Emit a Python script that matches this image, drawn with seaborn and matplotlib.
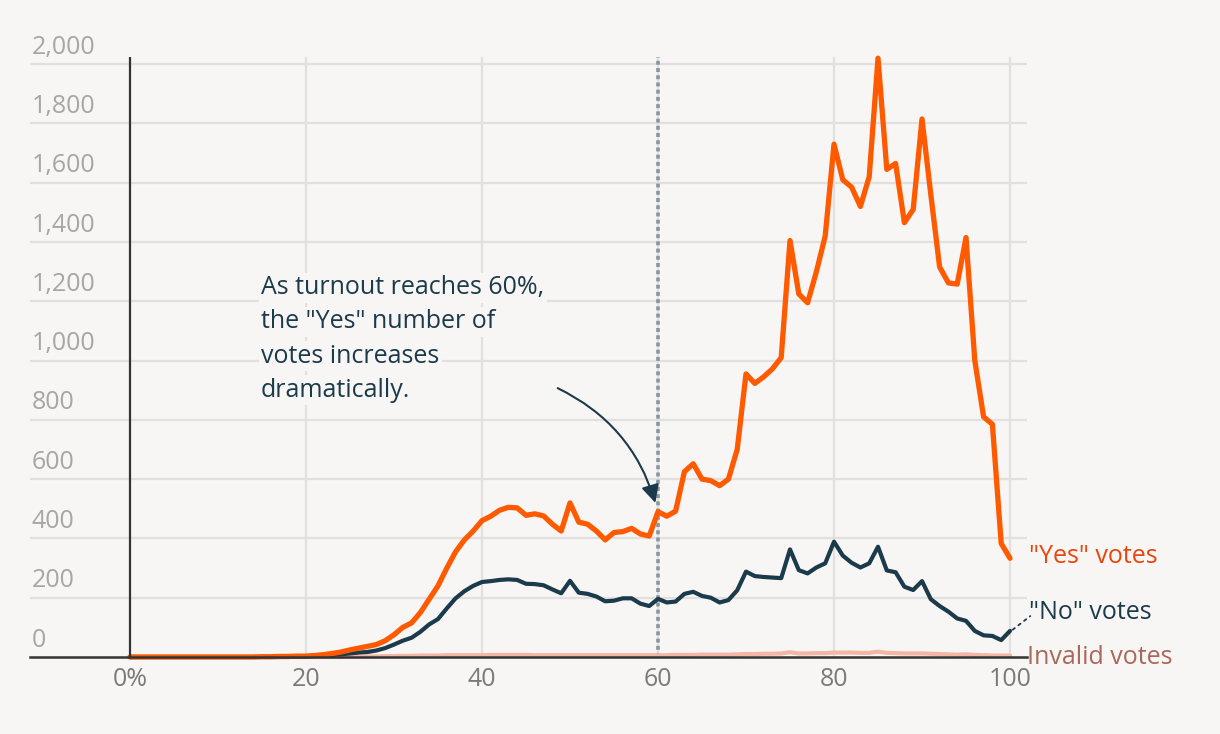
import numpy as np
import pandas as pd
import matplotlib
matplotlib.use("Agg")
import matplotlib.pyplot as plt
import seaborn as sns

# Turnout (%) on the x axis, number of polling stations on the y axis
turnout = list(range(0, 101))

yes_votes = [0] * 15 + [
    1, 1, 2, 2, 3, 3, 5, 8, 12, 17,             # 15-24
    24, 30, 36, 42, 55, 75, 100, 115, 150, 195,  # 25-34
    240, 300, 355, 395, 425, 460, 475, 495, 505, 503,  # 35-44
    478, 483, 476, 448, 425, 520, 455, 448, 425, 395,  # 45-54
    420, 423, 434, 415, 408, 490, 475, 492, 625, 652,  # 55-64
    600, 595, 578, 600, 700, 955, 923, 945, 972, 1010,  # 65-74
    1405, 1225, 1195, 1300, 1420, 1730, 1610, 1585, 1520, 1620,  # 75-84
    2020, 1645, 1665, 1465, 1510, 1815, 1560, 1316, 1262, 1258,  # 85-94
    1415, 1000, 810, 785, 383, 333,             # 95-100
]

no_votes = [0] * 19 + [
    2, 3, 4, 5, 7, 9,                           # 19-24
    12, 15, 17, 22, 30, 42, 55, 65, 85, 110,    # 25-34
    128, 164, 198, 222, 240, 253, 256, 260, 262, 260,  # 35-44
    247, 246, 242, 228, 215, 257, 217, 213, 204, 188,  # 45-54
    190, 198, 198, 180, 172, 196, 184, 187, 213, 220,  # 55-64
    206, 200, 184, 192, 225, 288, 273, 270, 268, 266,  # 65-74
    363, 293, 282, 302, 316, 389, 342, 318, 302, 316,  # 75-84
    372, 292, 286, 237, 226, 256, 195, 172, 153, 130,  # 85-94
    122, 88, 73, 71, 57, 88,                    # 95-100
]

invalid_votes = [0] * 25 + [
    1, 1, 2, 2, 3,                              # 25-29
    3, 4, 4, 5, 5, 5, 6, 6, 6, 6,               # 30-39
    6, 7, 7, 7, 7, 7, 6, 6, 6, 6,               # 40-49
    6, 6, 6, 6, 6, 6, 6, 6, 6, 6,               # 50-59
    6, 6, 7, 7, 7, 8, 8, 8, 8, 9,               # 60-69
    10, 10, 11, 11, 12, 16, 12, 12, 13, 13,     # 70-79
    15, 15, 15, 14, 14, 18, 14, 13, 12, 12,     # 80-89
    12, 11, 10, 9, 8, 9, 7, 6, 5, 5,            # 90-99
    5,                                          # 100
]

series_names = ['"Yes" votes', '"No" votes', 'Invalid votes']
y_ticks = list(range(0, 2001, 200))
x_ticks = [0, 20, 40, 60, 80, 100]
x_tick_labels = ["0%", "20", "40", "60", "80", "100"]

BG = "#f7f6f4"
GRID = "#e2e0de"
ORANGE = "#ff5a00"
NAVY = "#1b3a4b"
PINK = "#f6b6a6"

df = pd.DataFrame({
    "turnout": turnout * 3,
    "stations": yes_votes + no_votes + invalid_votes,
    "series": [series_names[0]] * 101 + [series_names[1]] * 101 + [series_names[2]] * 101,
})

sns.set_theme(style="white")
plt.rcParams["font.family"] = ["Open Sans", "DejaVu Sans"]
FS = 18

fig = plt.figure(figsize=(12.2, 7.34), dpi=100, facecolor=BG)
ax = fig.add_axes([0.0246, 0.1049, 0.8172, 0.8174], facecolor=BG)

# order so that Yes is drawn on top
palette = {series_names[0]: ORANGE, series_names[1]: NAVY, series_names[2]: PINK}
for name, lw, z in [(series_names[2], 3.0, 3), (series_names[1], 3.0, 4), (series_names[0], 3.8, 5)]:
    sns.lineplot(data=df[df["series"] == name], x="turnout", y="stations", color=palette[name],
                 lw=lw, ax=ax, zorder=z, legend=False, solid_joinstyle="round",
                 solid_capstyle="round", clip_on=False)

ax.set_xlim(-11.36, 101.93)
ax.set_ylim(0, 2024)

# grid
for v in y_ticks[1:]:
    ax.axhline(v, color=GRID, lw=1.6, zorder=1)
for v in x_ticks[1:]:
    ax.axvline(v, color=GRID, lw=1.6, zorder=1)

# axes lines
ax.axvline(0, color="#333333", lw=1.6, zorder=6)
for s in ["top", "right", "left"]:
    ax.spines[s].set_visible(False)
ax.spines["bottom"].set_color("#333333")
ax.spines["bottom"].set_linewidth(1.8)
ax.spines["bottom"].set_zorder(7)

# 60% marker
ax.axvline(60, color="#8797a0", lw=2.6, ls=(0, (1.1, 0.9)), zorder=2)

ax.set_xlabel("")
ax.set_ylabel("")
ax.set_yticks([])
ax.set_xticks(x_ticks)
ax.set_xticklabels(x_tick_labels, fontsize=FS, color="#7a7a7a")
ax.tick_params(axis="x", length=0, pad=7)

for v in y_ticks:
    ax.annotate(f"{v:,}", xy=(-11.2, v), xytext=(0, 7.5), textcoords="offset points",
                ha="left", va="baseline", fontsize=FS, color="#a6a6a6", zorder=8)

# annotation
note_lines = ["As turnout reaches 60%,", 'the "Yes" number of', "votes increases", "dramatically."]
for i, line in enumerate(note_lines):
    ax.annotate(line, xy=(14.9, 1245), xytext=(0, -i * 24.5), textcoords="offset points",
                ha="left", va="center", fontsize=FS, color=NAVY, zorder=8,
                bbox=dict(boxstyle="square,pad=0.1", fc=BG, ec="none"))

ax.annotate("", xy=(59.7, 520), xytext=(48.6, 907),
            arrowprops=dict(arrowstyle="-|>,head_length=0.9,head_width=0.45", color=NAVY, lw=1.5,
                            connectionstyle="arc3,rad=-0.22", shrinkA=0, shrinkB=0), zorder=8)

# series labels
ax.annotate('"Yes" votes', xy=(102.2, 338), ha="left", va="center", fontsize=FS, color="#e8460c",
            annotation_clip=False)
ax.annotate('"No" votes', xy=(102.2, 150), ha="left", va="center", fontsize=FS, color=NAVY,
            annotation_clip=False)
ax.annotate('Invalid votes', xy=(101.9, -2), ha="left", va="center", fontsize=FS, color="#a8685a",
            annotation_clip=False)
ax.annotate("", xy=(102.3, 138), xytext=(100.3, 92),
            arrowprops=dict(arrowstyle="-", color=NAVY, lw=1.3, ls=(0, (1.5, 2.5)),
                            shrinkA=0, shrinkB=0), annotation_clip=False)

fig.savefig("out.png", dpi=100, facecolor=BG)
